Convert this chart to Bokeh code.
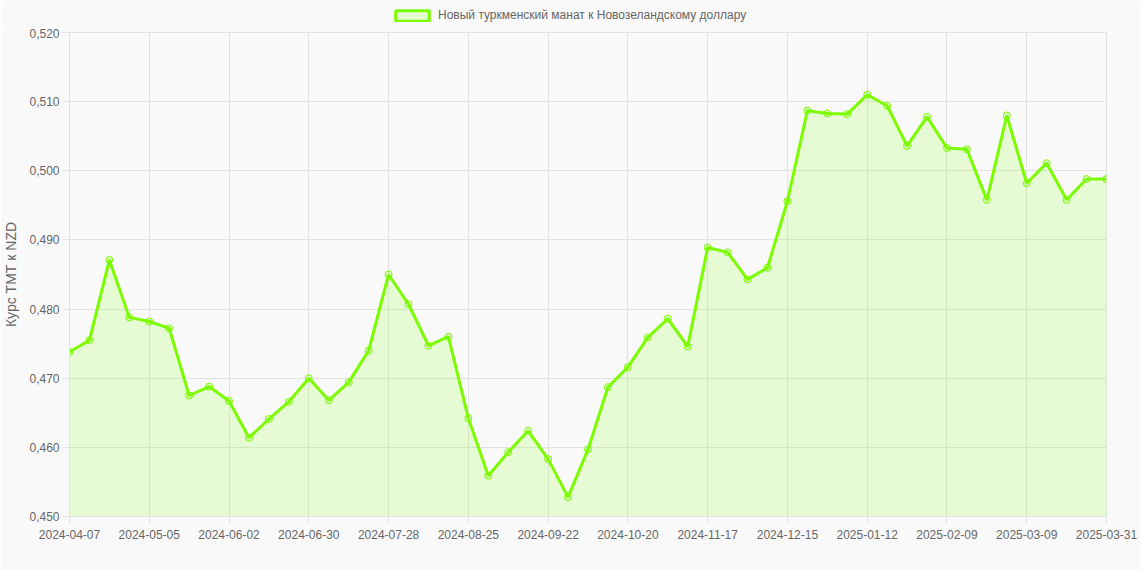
from bokeh.plotting import figure
from bokeh.layouts import column
from bokeh.models import (ColumnDataSource, FixedTicker, Range1d, Legend, LegendItem,
                          CustomJSTickFormatter)
from bokeh.embed import file_html
from bokeh.resources import INLINE

dates = [
    "2024-04-07", "2024-04-14", "2024-04-21", "2024-04-28", "2024-05-05", "2024-05-12",
    "2024-05-19", "2024-05-26", "2024-06-02", "2024-06-09", "2024-06-16", "2024-06-23",
    "2024-06-30", "2024-07-07", "2024-07-14", "2024-07-21", "2024-07-28", "2024-08-04",
    "2024-08-11", "2024-08-18", "2024-08-25", "2024-09-01", "2024-09-08", "2024-09-15",
    "2024-09-22", "2024-09-29", "2024-10-06", "2024-10-13", "2024-10-20", "2024-10-27",
    "2024-11-03", "2024-11-10", "2024-11-17", "2024-11-24", "2024-12-01", "2024-12-08",
    "2024-12-15", "2024-12-22", "2024-12-29", "2025-01-05", "2025-01-12", "2025-01-19",
    "2025-01-26", "2025-02-02", "2025-02-09", "2025-02-16", "2025-02-23", "2025-03-02",
    "2025-03-09", "2025-03-16", "2025-03-23", "2025-03-30", "2025-03-31",
]
rates = [
    0.4738, 0.4755, 0.4871, 0.4788, 0.4782, 0.4772,
    0.4675, 0.4688, 0.4667, 0.4614, 0.4641, 0.4666,
    0.4700, 0.4668, 0.4694, 0.4740, 0.4850, 0.4807,
    0.4747, 0.4760, 0.4642, 0.4559, 0.4593, 0.4624,
    0.4583, 0.4528, 0.4597, 0.4687, 0.4716, 0.4759,
    0.4786, 0.4746, 0.4889, 0.4882, 0.4843, 0.4860,
    0.4956, 0.5087, 0.5083, 0.5082, 0.5110, 0.5094,
    0.5036, 0.5078, 0.5033, 0.5031, 0.4958, 0.5080,
    0.4982, 0.5011, 0.4958, 0.4988, 0.4988,
]
tick_index = [0, 4, 8, 12, 16, 20, 24, 28, 32, 36, 40, 44, 48, 52]
y_ticks = [0.45, 0.46, 0.47, 0.48, 0.49, 0.50, 0.51, 0.52]
y_min, y_max = 0.45, 0.52
series_name = "Новый туркменский манат к Новозеландскому доллару"
y_title = "Курс ТМТ к NZD"

GREEN = "#7cfc00"
BG = "#f9f9f9"
GRID = "#e2e2e2"
TXT = "#666666"
FONT = "Liberation Sans"

W = 1140
TOP_H = 28
H = 570 - TOP_H
B_LEFT, B_RIGHT, B_TOP, B_BOTTOM = 68, 34, 4, 54

# ---- legend strip (top) ----
top = figure(width=W, height=TOP_H, output_backend="svg", toolbar_location=None,
             title=None, x_range=Range1d(0, W), y_range=Range1d(0, TOP_H),
             min_border=0, min_border_left=0, min_border_right=0,
             min_border_top=0, min_border_bottom=0)
top.axis.visible = False
top.grid.visible = False
top.outline_line_color = None
top.background_fill_color = BG
top.border_fill_color = BG
sw = top.quad(left=[0], right=[0], top=[0], bottom=[0], fill_color=GREEN,
              fill_alpha=0.15, line_color=GREEN, line_width=3)
sw.visible = False
legend = Legend(items=[LegendItem(label=series_name, renderers=[sw])],
                location=(322, 6), orientation="horizontal",
                glyph_width=42, glyph_height=13, label_height=13,
                label_text_font=FONT, label_text_font_size="12px", label_text_color=TXT,
                padding=2, margin=0, spacing=0, label_standoff=5,
                background_fill_alpha=0, border_line_color=None,
                inactive_fill_alpha=0)
top.add_layout(legend, "center")

# ---- main chart ----
x = list(range(len(rates)))
src = ColumnDataSource(dict(x=x, y=rates, base=[y_min] * len(rates)))

p = figure(width=W, height=H, output_backend="svg", toolbar_location=None,
           title=None, x_range=Range1d(0, len(rates) - 1), y_range=Range1d(y_min, y_max),
           min_border_left=B_LEFT, min_border_right=B_RIGHT, min_border_top=B_TOP,
           min_border_bottom=B_BOTTOM)
p.background_fill_color = BG
p.border_fill_color = BG
p.outline_line_color = GRID

p.varea(x="x", y1="base", y2="y", source=src, fill_color=GREEN, fill_alpha=0.15)
p.line(x="x", y="y", source=src, line_color=GREEN, line_width=3)
p.scatter(x="x", y="y", source=src, size=7, line_color=GREEN, line_width=1,
          fill_color=GREEN, fill_alpha=0.2)

p.xaxis.ticker = FixedTicker(ticks=tick_index)
p.xaxis.major_label_overrides = {i: dates[i] for i in tick_index}
p.xgrid.ticker = FixedTicker(ticks=tick_index)
p.yaxis.ticker = FixedTicker(ticks=y_ticks)
p.ygrid.ticker = FixedTicker(ticks=y_ticks)
p.yaxis.formatter = CustomJSTickFormatter(code="return tick.toFixed(3).replace('.', ',');")

for ax in (p.xaxis, p.yaxis):
    ax.axis_line_color = GRID
    ax.major_tick_line_color = GRID
    ax.minor_tick_line_color = None
    ax.major_tick_in = 0
    ax.major_tick_out = 7
    ax.major_label_text_font = FONT
    ax.major_label_text_font_size = "12px"
    ax.major_label_text_color = TXT
p.xaxis.major_label_standoff = 6
p.yaxis.major_label_standoff = 3
p.yaxis.axis_label = y_title
p.yaxis.axis_label_text_font = FONT
p.yaxis.axis_label_text_font_size = "14px"
p.yaxis.axis_label_text_font_style = "normal"
p.yaxis.axis_label_text_color = TXT
p.yaxis.axis_label_standoff = 7

p.xgrid.grid_line_color = GRID
p.ygrid.grid_line_color = GRID

layout = column(top, p, spacing=0)
open("out.html", "w").write(file_html(layout, INLINE))
